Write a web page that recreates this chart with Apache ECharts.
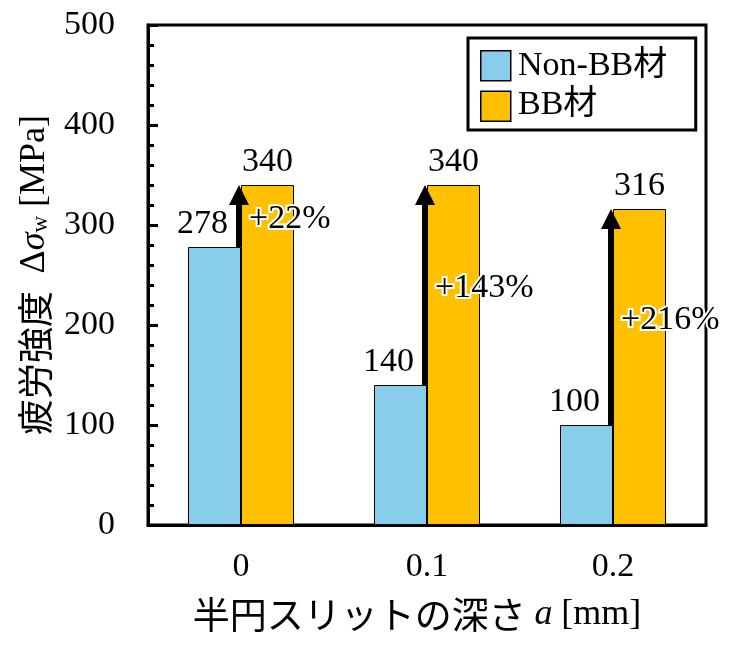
<!DOCTYPE html>
<html><head><meta charset="utf-8">
<script src="https://cdn.jsdelivr.net/npm/echarts@6/dist/echarts.min.js"></script>
<style>html,body{margin:0;padding:0;background:#fff}#c{width:750px;height:650px}</style>
</head><body><div id="c"></div>
<script>
// ---- data ----
const categories = ['0', '0.1', '0.2'];
const seriesNames = ['Non-BB材', 'BB材'];
const nonBB = [278, 140, 100];
const bb = [340, 340, 316];
const gainLabels = ['+22%', '+143%', '+216%'];
const yMin = 0, yMax = 500, yStep = 100;

// ---- style ----
const SERIF = "Liberation Serif, Noto Sans CJK JP, serif";
const CJK = "Noto Sans CJK JP, Liberation Serif, sans-serif";
const BLUE = '#88CEEB';
const ORANGE = '#FFC000';

// legend box geometry (layout only)
const LEG_LEFT = 468, LEG_TOP = 38, LEG_PAD_TOP = 12, LEG_ITEM = 30, LEG_GAP = 9;

const chart = echarts.init(document.getElementById('c'), null, {renderer: 'canvas'});

const arrowData = categories.map((c, i) => [i, nonBB[i], bb[i]]);

chart.setOption({
  animation: false,
  backgroundColor: '#fff',
  grid: {left: 148, right: 44, top: 25, bottom: 125, show: true, borderColor: '#000', borderWidth: 3, containLabel: false, outerBoundsMode: 'none'},
  legend: {
    data: seriesNames,
    orient: 'vertical', left: LEG_LEFT, top: LEG_TOP,
    icon: 'rect', selectedMode: false,
    itemWidth: LEG_ITEM, itemHeight: LEG_ITEM, itemGap: LEG_GAP,
    padding: [LEG_PAD_TOP, 180, 8, 12],
    borderColor: '#000', borderWidth: 3, backgroundColor: '#fff',
    formatter: function () { return ''; },
    textStyle: {fontSize: 30, lineHeight: 30, color: '#000'},
    itemStyle: {borderColor: '#000', borderWidth: 1.5}
  },
  graphic: seriesNames.map((n, k) => ({
    type: 'text', z: 100,
    x: LEG_LEFT + 12 + LEG_ITEM + 8,
    y: LEG_TOP + LEG_PAD_TOP + LEG_ITEM / 2 + k * (LEG_ITEM + LEG_GAP) + 1,
    style: {text: n, font: '34px ' + SERIF, fill: '#000', align: 'left', verticalAlign: 'middle'}
  })),
  xAxis: {
    type: 'category', data: categories,
    axisLine: {lineStyle: {color: '#000', width: 3}},
    axisTick: {show: false},
    axisLabel: {fontFamily: SERIF, fontSize: 34, color: '#000', margin: 25},
    name: '{c|半円スリットの深さ} {i|a} {g|[mm]}',
    nameLocation: 'middle', nameGap: 71,
    nameTextStyle: {
      fontFamily: SERIF, fontSize: 35, color: '#000', padding: [0, 20, 0, 0],
      rich: {
        c: {fontFamily: CJK, fontSize: 37, color: '#000'},
        i: {fontFamily: SERIF, fontSize: 36, fontStyle: 'italic', color: '#000'},
        g: {fontFamily: SERIF, fontSize: 36, color: '#000'}
      }
    }
  },
  yAxis: {
    type: 'value', min: yMin, max: yMax, interval: yStep,
    axisLine: {show: true, lineStyle: {color: '#000', width: 3}},
    axisTick: {show: true, inside: true, length: 10, lineStyle: {color: '#000', width: 3}},
    minorTick: {show: true, splitNumber: 5, length: 6, lineStyle: {color: '#000', width: 3}},
    splitLine: {show: false},
    axisLabel: {fontFamily: SERIF, fontSize: 34, color: '#000', margin: 33},
    name: '{c|疲労強度}  {g|Δ}{gi|σ}{sub|w} {g|[MPa]}',
    nameLocation: 'middle', nameGap: 95, nameRotate: 90,
    nameTextStyle: {
      fontFamily: SERIF, fontSize: 35, color: '#000',
      rich: {
        c: {fontFamily: CJK, fontSize: 36, color: '#000'},
        g: {fontFamily: SERIF, fontSize: 36, color: '#000'},
        gi: {fontFamily: SERIF, fontSize: 36, fontStyle: 'italic', color: '#000'},
        sub: {fontFamily: SERIF, fontSize: 23, color: '#000', padding: [12, 0, 0, 0]}
      }
    }
  },
  series: [
    {
      name: seriesNames[0], type: 'bar', data: nonBB, barWidth: '28.5%', barGap: '0%',
      itemStyle: {color: BLUE, borderColor: '#000', borderWidth: 1},
      label: {show: true, position: 'top', distance: 6, offset: [-12, 0], fontFamily: SERIF, fontSize: 34, color: '#000'}
    },
    {
      name: seriesNames[1], type: 'bar', data: bb, barWidth: '28.5%', barGap: '0%',
      itemStyle: {color: ORANGE, borderColor: '#000', borderWidth: 1},
      label: {show: true, position: 'top', distance: 6, fontFamily: SERIF, fontSize: 34, color: '#000'}
    },
    {
      type: 'custom', z: 5, data: arrowData,
      encode: {x: 0, y: [1, 2]},
      renderItem: function (params, api) {
        const i = api.value(0);
        const lo = api.coord([i, api.value(1)]);
        const hi = api.coord([i, api.value(2)]);
        const cx = lo[0] - 2;
        const sw = 3, hw = 10, hh = 20;
        return {
          type: 'group',
          children: [
            {type: 'polygon', shape: {points: [
              [cx - sw, lo[1]], [cx - sw, hi[1] + hh], [cx - hw, hi[1] + hh], [cx, hi[1]],
              [cx + hw, hi[1] + hh], [cx + sw, hi[1] + hh], [cx + sw, lo[1]]]},
              style: {fill: '#000'}},
            {type: 'text', x: cx + 10, y: (lo[1] + hi[1]) / 2 + 3,
              style: {text: gainLabels[params.dataIndex], font: '34px ' + SERIF, fill: '#000',
                align: 'left', verticalAlign: 'middle',
                stroke: '#fff', lineWidth: 4, shadowColor: '#fff', shadowBlur: 10}}
          ]
        };
      }
    }
  ]
});
</script></body></html>
